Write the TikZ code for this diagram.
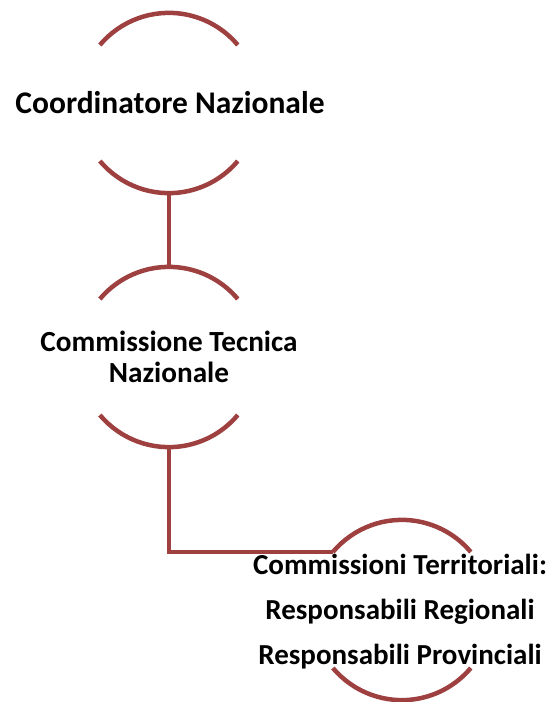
\documentclass[tikz,border=0pt]{standalone}
\usepackage{fontspec}
\setmainfont{Carlito}
\definecolor{arcred}{RGB}{158,64,64}
\begin{document}
\begin{tikzpicture}[x=1pt,y=-1pt,
  ring/.style={circle,minimum size=180pt,inner sep=0pt,draw=none},
  arcline/.style={draw=arcred,line width=4.5pt},
  lbl1/.style={font=\bfseries\fontsize{31.5}{36}\selectfont,align=center,text=black},
  lbl/.style={font=\bfseries\fontsize{29.2}{31}\selectfont,align=center,text=black},
  lbl3/.style={font=\bfseries\fontsize{29}{45}\selectfont,align=center,text=black}]
\useasboundingbox (0,0) rectangle (557,702);
\node[ring] (c1) at (169,103) {};
\node[ring] (c2) at (169,357) {};
\node[ring] (c3) at (402,610) {};
\draw[arcline] (c1.140) arc[start angle=140,end angle=40,radius=90pt];
\draw[arcline] (c1.220) arc[start angle=220,end angle=320,radius=90pt];
\draw[arcline] (c2.140) arc[start angle=140,end angle=40,radius=90pt];
\draw[arcline] (c2.220) arc[start angle=220,end angle=320,radius=90pt];
\draw[arcline] (c3.140) arc[start angle=140,end angle=40,radius=90pt];
\draw[arcline] (c3.220) arc[start angle=220,end angle=320,radius=90pt];
\draw[arcline] (c1.south) -- (c2.north);
\draw[arcline] (c2.south) |- (c3.140);
\node[lbl1] (t1) at (170,103) {Coordinatore Nazionale};
\node[lbl] (t2) at (169,357) {Commissione Tecnica\\Nazionale};
\node[lbl3] (t3) at (400,612) {Commissioni Territoriali:\\Responsabili Regionali\\Responsabili Provinciali};
\end{tikzpicture}
\end{document}
